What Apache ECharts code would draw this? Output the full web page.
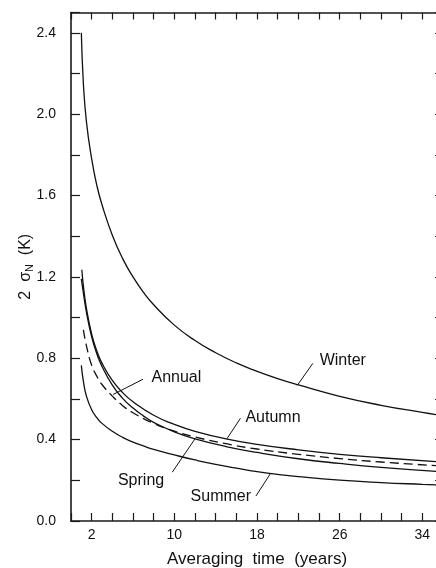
<!DOCTYPE html>
<html>
<head>
<meta charset="utf-8">
<script src="https://cdn.jsdelivr.net/npm/echarts@6/dist/echarts.min.js"></script>
<style>
html,body{margin:0;padding:0;background:#fff;}
#chart{width:436px;height:568px;}
</style>
</head>
<body>
<div id="chart"></div>
<script>
// ---- data (averaging time in years, 2 sigma_N in K) ----
const winter = [[1,2.40],[1.2,2.15],[1.5,1.96],[2,1.78],[2.5,1.65],[3,1.555],[4,1.405],[5,1.29],[6,1.20],[7,1.125],[8,1.063],[10,0.963],[12,0.887],[14,0.827],[16,0.777],[18,0.736],[20,0.70],[22,0.669],[26,0.613],[30,0.569],[34,0.534],[36,0.518]];
const autumn = [[1.05,1.235],[1.2,1.155],[1.5,1.043],[2,0.919],[2.5,0.836],[3,0.776],[4,0.691],[5,0.631],[6,0.586],[8,0.52],[10,0.475],[12,0.441],[15,0.404],[18,0.377],[22,0.35],[26,0.328],[30,0.311],[36,0.29]];
const spring = [[1.0,1.19],[1.2,1.12],[1.5,1.025],[2,0.905],[2.5,0.822],[3,0.76],[4,0.668],[5,0.603],[6,0.555],[7,0.517],[8,0.485],[10,0.438],[12,0.404],[15,0.366],[18,0.337],[22,0.306],[26,0.283],[30,0.264],[36,0.242]];
const annual = [[1.2,0.94],[1.5,0.86],[2,0.766],[2.5,0.712],[3,0.671],[4,0.614],[5,0.567],[6,0.532],[8,0.48],[10,0.442],[12,0.413],[15,0.38],[18,0.354],[22,0.328],[26,0.307],[30,0.29],[36,0.27]];
const summer = [[1,0.765],[1.2,0.686],[1.5,0.613],[2,0.547],[2.5,0.508],[3,0.48],[4,0.441],[5,0.411],[6,0.388],[7,0.369],[8,0.352],[10,0.325],[12,0.300],[14,0.278],[16,0.26],[18,0.243],[20,0.229],[22,0.218],[26,0.201],[30,0.189],[34,0.18],[36,0.176]];

const xLabelValues = [2, 10, 18, 26, 34];
const yLabelValues = ['0.0','0.4','0.8','1.2','1.6','2.0','2.4'];

// annotation labels with arrows (data coordinates)
const annotations = [
  {name:'Winter', text:[26.3,0.79], tail:[23.4,0.775], head:[21.9,0.667]},
  {name:'Annual', text:[10.2,0.707], tail:[6.97,0.697], head:[4.07,0.622]},
  {name:'Autumn', text:[19.55,0.51], tail:[16.4,0.505], head:[15.1,0.405]},
  {name:'Spring', text:[6.78,0.20], tail:[9.8,0.24], head:[12.0,0.404]},
  {name:'Summer', text:[14.5,0.118], tail:[17.9,0.123], head:[19.3,0.233]}
];

const FONT = 'Liberation Sans, Arial, Helvetica, sans-serif';
const INK = '#111';

const chart = echarts.init(document.getElementById('chart'), null, {renderer:'canvas'});

function baseLine(name, data, dashed) {
  return {
    name: name, type: 'line', data: data, showSymbol: false, symbol: 'none',
    smooth: 0.5, silent: true,
    lineStyle: {color: INK, width: 1.3, type: dashed ? [9,5] : 'solid'}
  };
}

const series = [
  baseLine('Winter', winter),
  baseLine('Autumn', autumn),
  baseLine('Spring', spring),
  baseLine('Annual', annual, true),
  baseLine('Summer', summer)
];

series.push({
  type: 'line', data: [], silent: true,
  markLine: {
    silent: true, animation: false,
    symbol: ['none','arrow'], symbolSize: [0, 9],
    label: {show: false},
    lineStyle: {color: INK, width: 1, type: 'solid'},
    data: annotations.map(a => [{coord: a.tail}, {coord: a.head}])
  },
  markPoint: {
    silent: true, animation: false,
    symbol: 'circle', symbolSize: 1,
    itemStyle: {color: 'rgba(0,0,0,0)'},
    label: {show: true, position: 'inside', color: INK, fontFamily: FONT, fontSize: 16},
    data: annotations.map(a => ({coord: a.text, value: a.name, label: {formatter: a.name}}))
  }
});

const axisLineStyle = {color: '#1a1a1a', width: 1.6};
const tickStyle = {color: '#1a1a1a', width: 1.2};

const option = {
  animation: false,
  backgroundColor: '#fff',
  grid: {left: 71, top: 12.5, width: 372, height: 508.5, containLabel: false, outerBoundsMode: 'none'},
  xAxis: [
    {
      type: 'value', min: 0, max: 36, interval: 2, position: 'bottom',
      name: 'Averaging  time  (years)', nameLocation: 'middle', nameGap: 30, nameMoveOverlap: false,
      nameTextStyle: {fontFamily: FONT, fontSize: 17, color: INK},
      axisLine: {show: true, onZero: false, lineStyle: axisLineStyle},
      axisTick: {show: true, inside: true, length: 8, lineStyle: tickStyle},
      axisLabel: {show: true, margin: 7, fontFamily: FONT, fontSize: 14, color: INK,
        formatter: v => xLabelValues.includes(Math.round(v)) ? String(Math.round(v)) : ''},
      splitLine: {show: false}
    },
    {
      type: 'value', min: 0, max: 36, interval: 2, position: 'top',
      axisLine: {show: true, onZero: false, lineStyle: axisLineStyle},
      axisTick: {show: true, inside: true, length: 7, lineStyle: tickStyle},
      axisLabel: {show: false}, splitLine: {show: false}
    }
  ],
  yAxis: [
    {
      type: 'value', min: 0, max: 2.5, interval: 0.2, position: 'left',
      name: '2  σ{sub|N}  (K)', nameLocation: 'middle', nameGap: 36, nameRotate: 90, nameMoveOverlap: false,
      nameTextStyle: {fontFamily: FONT, fontSize: 16, color: INK,
        rich: {sub: {fontFamily: FONT, fontSize: 11, color: INK, padding: [7,0,0,0]}}},
      axisLine: {show: true, onZero: false, lineStyle: axisLineStyle},
      axisTick: {show: true, inside: true, length: 9, lineStyle: tickStyle},
      axisLabel: {show: true, margin: 15, fontFamily: FONT, fontSize: 14, color: INK,
        formatter: v => { const s = v.toFixed(1); return yLabelValues.includes(s) ? s : ''; }},
      splitLine: {show: false}
    },
    {
      type: 'value', min: 0, max: 2.5, interval: 0.2, position: 'right',
      axisLine: {show: true, onZero: false, lineStyle: axisLineStyle},
      axisTick: {show: true, inside: true, length: 8, lineStyle: tickStyle},
      axisLabel: {show: false}, splitLine: {show: false}
    }
  ],
  series: series
};

chart.setOption(option);
</script>
</body>
</html>
